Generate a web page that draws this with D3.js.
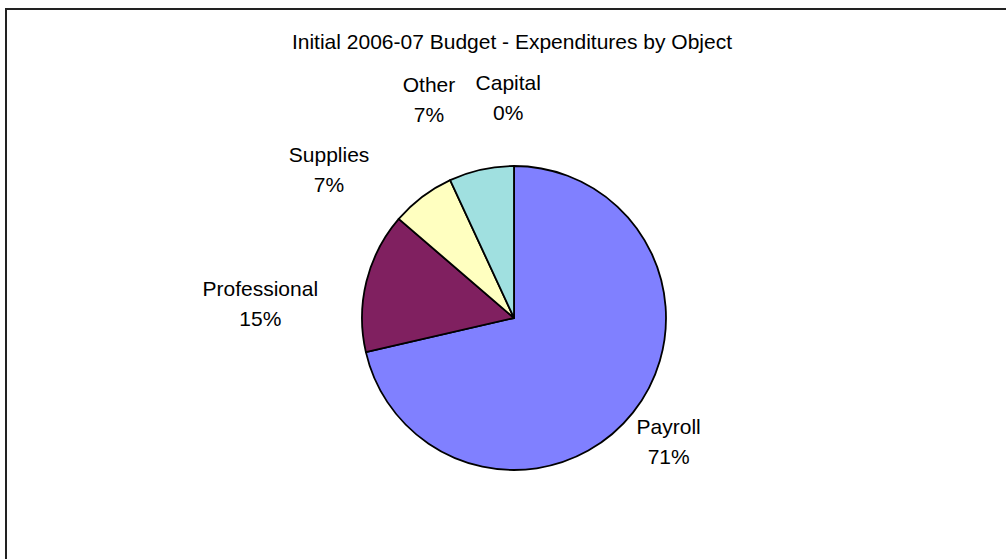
<!DOCTYPE html>
<html>
<head>
<meta charset="utf-8">
<script src="https://cdn.jsdelivr.net/npm/d3@7/dist/d3.min.js"></script>
<style>
  html, body { margin: 0; padding: 0; background: #fff; }
  svg { display: block; font-family: "Liberation Sans", Arial, sans-serif; }
</style>
</head>
<body>
<svg id="chart" width="1006" height="559"></svg>
<script>
// Initial 2006-07 budget, share of expenditures by object (percent)
const categories = ["Payroll", "Professional", "Supplies", "Other", "Capital"];
const shares = [71.4, 14.9, 6.8, 6.9, 0.0];
const sliceColors = ["#8080FF", "#802060", "#FFFFC0", "#A0E0E0", "#FFFFFF"];
const chartTitle = "Initial 2006-07 Budget - Expenditures by Object";

// Label placement: angular shift (deg) off the slice middle and radial tweak (px)
const labelAngleShift = [0, -10.5, -14.2, -8.8, -1.5];
const labelRadiusShift = [-38, 0, -5, 7, 0];

const W = 1006, H = 559;
const cx = 514, cy = 318, radius = 152;
const labelRadius = 195;
const fontSize = 21, lineGap = 30;

const svg = d3.select("#chart");

// chart frame (right and bottom edges run past the view)
svg.append("rect")
  .attr("x", 6).attr("y", 9)
  .attr("width", W + 20).attr("height", H + 20)
  .attr("fill", "#fff")
  .attr("stroke", "#222").attr("stroke-width", 2);

svg.append("text")
  .attr("x", 512).attr("y", 49)
  .attr("text-anchor", "middle")
  .attr("font-size", fontSize)
  .attr("fill", "#000")
  .text(chartTitle);

const data = categories.map((c, i) => ({ name: c, value: shares[i], i }));
const total = d3.sum(shares);
const pct = d3.format(".0%");

const pie = d3.pie().sort(null).value(d => d.value).startAngle(0).endAngle(2 * Math.PI);
const arcs = pie(data);
const arc = d3.arc().innerRadius(0).outerRadius(radius);
const color = d3.scaleOrdinal().domain(categories).range(sliceColors);

const g = svg.append("g").attr("transform", `translate(${cx},${cy})`);

g.selectAll("path.slice")
  .data(arcs.filter(d => d.endAngle > d.startAngle))
  .join("path")
  .attr("class", "slice")
  .attr("d", arc)
  .attr("fill", d => color(d.data.name))
  .attr("stroke", "#000")
  .attr("stroke-width", 1.8)
  .attr("stroke-linejoin", "round");

// two-line data labels outside the pie
const labels = g.selectAll("g.label")
  .data(arcs)
  .join("g")
  .attr("class", "label");

labels.each(function (d) {
  const sel = d3.select(this);
  const t1 = sel.append("text").attr("text-anchor", "middle")
    .attr("font-size", fontSize).attr("fill", "#000").text(d.data.name);
  const t2 = sel.append("text").attr("text-anchor", "middle")
    .attr("font-size", fontSize).attr("fill", "#000").text(pct(d.data.value / total));
  const hw = Math.max(t1.node().getComputedTextLength(), t2.node().getComputedTextLength()) / 2;
  const hh = 25;
  const i = d.data.i;
  const theta = (d.startAngle + d.endAngle) / 2 + labelAngleShift[i] * Math.PI / 180;
  const ux = Math.sin(theta), uy = -Math.cos(theta);
  const dist = labelRadius + labelRadiusShift[i] + Math.abs(hw * ux) + Math.abs(hh * uy);
  const x = dist * ux, y = dist * uy;
  const capHalf = fontSize * 0.716 / 2;
  t1.attr("x", x).attr("y", y - lineGap / 2 + capHalf);
  t2.attr("x", x).attr("y", y + lineGap / 2 + capHalf);
});
</script>
</body>
</html>
